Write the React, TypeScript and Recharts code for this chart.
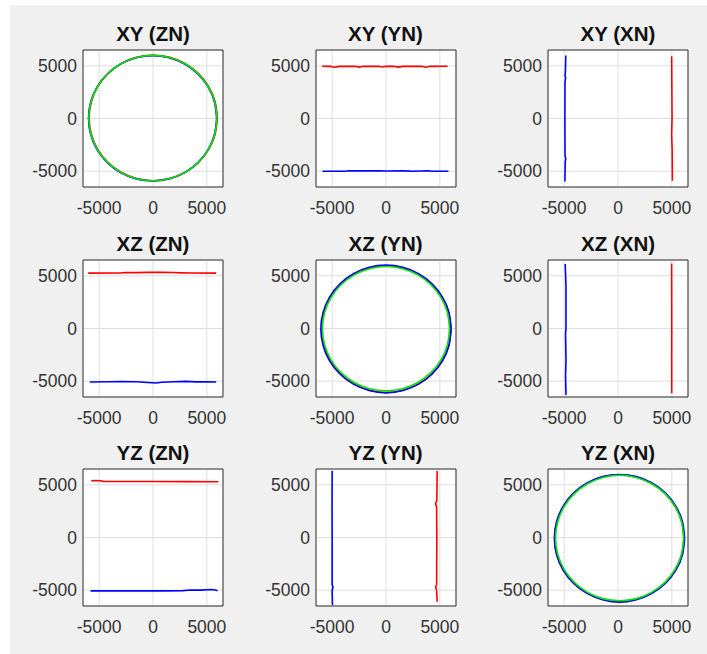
import { LineChart, Line, XAxis, YAxis, CartesianGrid, ReferenceArea } from 'recharts'

type Pt = [number, number]

const tickValues = [-5000, 0, 5000]
const axisLimits: [number, number] = [-6500, 6500]

const titles = ['XY (ZN)', 'XY (YN)', 'XY (XN)', 'XZ (ZN)', 'XZ (YN)', 'XZ (XN)', 'YZ (ZN)', 'YZ (YN)', 'YZ (XN)']

// XY (ZN)
const xyZnRed: Pt[] = [
  [5970, 50], [5768, 1591], [5173, 3025], [4227, 4257], [2995, 5203], [1561, 5798], [20, 6000], [-1521, 5798],
  [-2955, 5203], [-4187, 4257], [-5133, 3025], [-5728, 1591], [-5930, 50], [-5728, -1491], [-5133, -2925],
  [-4187, -4157], [-2955, -5103], [-1521, -5698], [20, -5900], [1561, -5698], [2995, -5103], [4227, -4157],
  [5173, -2925], [5768, -1491], [5970, 50],
]
const xyZnBlue: Pt[] = [
  [5910, 20], [5708, 1561], [5113, 2995], [4167, 4227], [2935, 5173], [1501, 5768], [-40, 5970], [-1581, 5768],
  [-3015, 5173], [-4247, 4227], [-5193, 2995], [-5788, 1561], [-5990, 20], [-5788, -1521], [-5193, -2955],
  [-4247, -4187], [-3015, -5133], [-1581, -5728], [-40, -5930], [1501, -5728], [2935, -5133], [4167, -4187],
  [5113, -2955], [5708, -1521], [5910, 20],
]
const xyZnGreen: Pt[] = [
  [5940, 40], [5738, 1581], [5143, 3015], [4197, 4247], [2965, 5193], [1531, 5788], [-10, 5990], [-1551, 5788],
  [-2985, 5193], [-4217, 4247], [-5163, 3015], [-5758, 1581], [-5960, 40], [-5758, -1501], [-5163, -2935],
  [-4217, -4167], [-2985, -5113], [-1551, -5708], [-10, -5910], [1531, -5708], [2965, -5113], [4197, -4167],
  [5143, -2935], [5738, -1501], [5940, 40],
]

// XY (YN)
const xyYnRed: Pt[] = [
  [-5930, 4960], [-5200, 4950], [-4800, 4870], [-4300, 4950], [-2900, 4950], [-2500, 4880], [-2100, 4950],
  [-700, 4950], [-400, 4890], [0, 4950], [700, 4950], [1100, 4880], [1600, 4950], [3300, 4950], [3700, 4870],
  [4100, 4950], [5720, 4960],
]
const xyYnBlue: Pt[] = [
  [-5900, -5000], [-3800, -5000], [-3400, -4960], [-2500, -4970], [-600, -4960], [0, -4980], [1600, -4970],
  [2500, -5000], [3900, -4960], [4300, -5000], [5800, -5010],
]

// XY (XN)
const xyXnRed: Pt[] = [[4980, 5900], [5000, 3000], [5020, 0], [4980, -1500], [5030, -3000], [5050, -5900]]
const xyXnBlue: Pt[] = [
  [-4850, 5970], [-4880, 4500], [-4920, 4000], [-4860, 3900], [-4920, 3500], [-4930, 0], [-4920, -3500],
  [-4850, -3800], [-4900, -4100], [-4930, -5980],
]

// XZ (ZN)
const xzZnRed: Pt[] = [
  [-6020, 5250], [-3000, 5260], [-2600, 5320], [-1500, 5300], [-500, 5330], [1000, 5330], [1800, 5310],
  [2600, 5280], [3500, 5260], [5870, 5250],
]
const xzZnBlue: Pt[] = [
  [-5870, -5080], [-4000, -5060], [-3000, -5030], [-1500, -5060], [-500, -5130], [300, -5170], [800, -5100],
  [2000, -5060], [3000, -5020], [4000, -5060], [5000, -5050], [5870, -5080],
]

// XZ (YN)
const xzYnRed: Pt[] = [
  [6030, -60], [5826, 1494], [5226, 2940], [4272, 4182], [3030, 5136], [1584, 5736], [30, 5940], [-1524, 5736],
  [-2970, 5136], [-4212, 4182], [-5166, 2940], [-5766, 1494], [-5970, -60], [-5766, -1614], [-5166, -3060],
  [-4212, -4302], [-2970, -5256], [-1524, -5856], [30, -6080], [1584, -5856], [3030, -5256], [4272, -4302],
  [5226, -3060], [5826, -1614], [6030, -60],
]
const xzYnBlue: Pt[] = [
  [6050, -40], [5844, 1527], [5239, 2985], [4277, 4237], [3025, 5199], [1567, 5804], [0, 6010], [-1567, 5804],
  [-3025, 5199], [-4277, 4237], [-5239, 2985], [-5844, 1527], [-6050, -40], [-5844, -1607], [-5239, -3065],
  [-4277, -4317], [-3025, -5279], [-1567, -5884], [0, -6110], [1567, -5884], [3025, -5279], [4277, -4317],
  [5239, -3065], [5844, -1607], [6050, -40],
]
const xzYnGreen: Pt[] = [
  [5900, -20], [5699, 1508], [5109, 2930], [4171, 4151], [2950, 5089], [1528, 5679], [0, 5880], [-1528, 5679],
  [-2950, 5089], [-4171, 4151], [-5109, 2930], [-5699, 1508], [-5900, -20], [-5699, -1548], [-5109, -2970],
  [-4171, -4191], [-2950, -5129], [-1528, -5719], [0, -5920], [1528, -5719], [2950, -5129], [4171, -4191],
  [5109, -2970], [5699, -1548], [5900, -20],
]

// XZ (XN)
const xzXnRed: Pt[] = [[4980, 6170], [4985, 3000], [4990, 0], [4985, -3000], [4990, -6140]]
const xzXnBlue: Pt[] = [
  [-4900, 6120], [-4880, 5500], [-4830, 4000], [-4830, 0], [-4870, -500], [-4830, -3000], [-4870, -4500],
  [-4830, -6300],
]

// YZ (ZN)
const yzZnRed: Pt[] = [
  [-5730, 5380], [-5300, 5400], [-4900, 5380], [-4600, 5330], [0, 5320], [3000, 5300], [6075, 5290],
]
const yzZnBlue: Pt[] = [
  [-5800, -5060], [-2000, -5060], [1000, -5060], [2800, -5040], [3500, -4980], [4500, -4990], [5300, -4940],
  [5800, -4980], [6000, -5060],
]

// YZ (YN)
const yzYnRed: Pt[] = [
  [4750, 6300], [4720, 3500], [4600, 3200], [4700, 2900], [4720, 0], [4700, -4500], [4600, -4700], [4700, -5000],
  [4750, -6100],
]
const yzYnBlue: Pt[] = [
  [-5000, 6300], [-5010, 3000], [-5000, 0], [-5000, -4500], [-4920, -4700], [-5000, -5000], [-4970, -6400],
]

// YZ (XN)
const yzXnRed: Pt[] = [
  [6120, -60], [5916, 1494], [5316, 2940], [4362, 4182], [3120, 5136], [1674, 5736], [120, 5940], [-1434, 5736],
  [-2880, 5136], [-4122, 4182], [-5076, 2940], [-5676, 1494], [-5880, -60], [-5676, -1614], [-5076, -3060],
  [-4122, -4302], [-2880, -5256], [-1434, -5856], [120, -6080], [1674, -5856], [3120, -5256], [4362, -4302],
  [5316, -3060], [5916, -1614], [6120, -60],
]
const yzXnBlue: Pt[] = [
  [6190, -65], [5984, 1502], [5379, 2960], [4417, 4212], [3165, 5174], [1707, 5779], [140, 5985], [-1427, 5779],
  [-2885, 5174], [-4137, 4212], [-5099, 2960], [-5704, 1502], [-5910, -65], [-5704, -1632], [-5099, -3090],
  [-4137, -4342], [-2885, -5304], [-1427, -5909], [140, -6150], [1707, -5909], [3165, -5304], [4417, -4342],
  [5379, -3090], [5984, -1632], [6190, -65],
]
const yzXnGreen: Pt[] = [
  [6100, -50], [5898, 1491], [5303, 2925], [4357, 4157], [3125, 5103], [1691, 5698], [150, 5900], [-1391, 5698],
  [-2825, 5103], [-4057, 4157], [-5003, 2925], [-5598, 1491], [-5800, -50], [-5598, -1591], [-5003, -3025],
  [-4057, -4257], [-2825, -5203], [-1391, -5798], [150, -6000], [1691, -5798], [3125, -5203], [4357, -4257],
  [5303, -3025], [5898, -1591], [6100, -50],
]

// [red, blue, green] per panel, row by row
const panelSeries: (Pt[] | null)[][] = [
  [xyZnRed, xyZnBlue, xyZnGreen],
  [xyYnRed, xyYnBlue, null],
  [xyXnRed, xyXnBlue, null],
  [xzZnRed, xzZnBlue, null],
  [xzYnRed, xzYnBlue, xzYnGreen],
  [xzXnRed, xzXnBlue, null],
  [yzZnRed, yzZnBlue, null],
  [yzYnRed, yzYnBlue, null],
  [yzXnRed, yzXnBlue, yzXnGreen],
]
const roundPanels = [0, 4, 8]

const colors = ['#ff0000', '#0000ff', '#00e600']
const colLeft = [83, 315.5, 548]
const rowTop = [50, 260, 469]
const boxW = 140
const boxH = 137
const yAxisW = 70

const font = '"Liberation Sans", Arial, Helvetica, sans-serif'
const tickStyle = { fill: '#333', fontSize: 17.5, fontFamily: font }

function Panel({ title, left, top, series, round }: {
  title: string
  left: number
  top: number
  series: (Pt[] | null)[]
  round: boolean
}) {
  return (
    <div style={{ position: 'absolute', left: left - yAxisW, top: top - 5 }}>
      <div
        style={{
          position: 'absolute',
          left: yAxisW - 10,
          top: -22,
          width: boxW + 20,
          textAlign: 'center',
          fontWeight: 'bold',
          fontSize: 20.5,
          lineHeight: '22px',
          color: '#111',
          fontFamily: font,
          whiteSpace: 'nowrap',
        }}
      >
        {title}
      </div>
      <LineChart width={yAxisW + boxW + 5} height={boxH + 35} margin={{ top: 5, right: 5, bottom: 0, left: 0 }}>
        <CartesianGrid stroke="#dedede" fill="#ffffff" />
        <XAxis
          type="number"
          dataKey="x"
          domain={axisLimits}
          ticks={tickValues}
          allowDataOverflow
          axisLine={false}
          tickLine={false}
          tickSize={0}
          tickMargin={15}
          height={30}
          tick={tickStyle}
          interval={0}
        />
        <YAxis
          type="number"
          dataKey="y"
          domain={axisLimits}
          ticks={tickValues}
          allowDataOverflow
          axisLine={false}
          tickLine={false}
          tickSize={0}
          tickMargin={6}
          width={yAxisW}
          tick={tickStyle}
          interval={0}
        />
        {series.map((pts, i) =>
          pts ? (
            <Line
              key={i}
              data={pts.map(([x, y]) => ({ x, y }))}
              dataKey="y"
              type={round ? 'natural' : 'linear'}
              stroke={colors[i]}
              strokeWidth={1.6}
              dot={false}
              activeDot={false}
              isAnimationActive={false}
            />
          ) : null
        )}
        <ReferenceArea
          x1={axisLimits[0]}
          x2={axisLimits[1]}
          y1={axisLimits[0]}
          y2={axisLimits[1]}
          fill="none"
          stroke="#333"
          strokeWidth={1}
          ifOverflow="visible"
        />
      </LineChart>
    </div>
  )
}

export default function App() {
  return (
    <div style={{ position: 'absolute', left: 0, top: 0, width: 707, height: 654, background: '#fff' }}>
      <div style={{ position: 'absolute', left: 10, top: 5, right: 0, bottom: 0, background: '#f0f0f0' }} />
      {titles.map((t, i) => (
        <Panel
          key={t}
          title={t}
          left={colLeft[i % 3]}
          top={rowTop[Math.floor(i / 3)]}
          series={panelSeries[i]}
          round={roundPanels.includes(i)}
        />
      ))}
    </div>
  )
}
